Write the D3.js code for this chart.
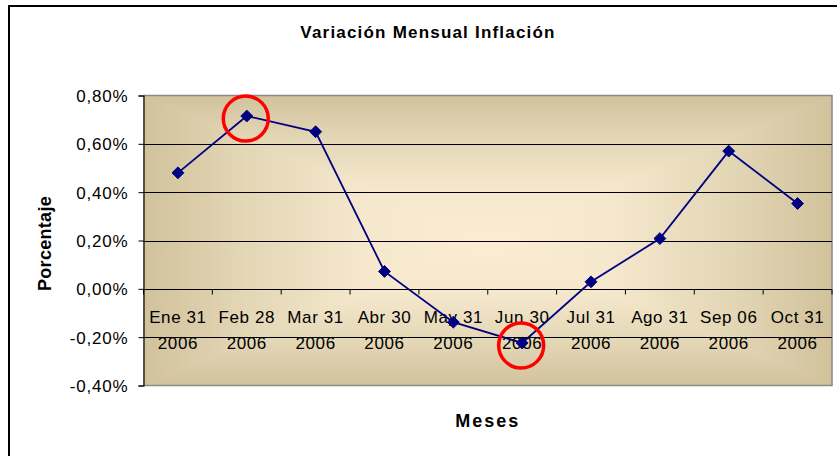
<!DOCTYPE html>
<html>
<head>
<meta charset="utf-8">
<script src="https://cdn.jsdelivr.net/npm/d3@7"></script>
<style>
  html, body { margin: 0; padding: 0; background: #ffffff; }
  svg { display: block; }
  text { font-family: "Liberation Sans", Arial, sans-serif; }
</style>
</head>
<body>
<svg id="chart" width="837" height="456"></svg>
<script>
// ---- data ----
const categories = ["Ene 31 2006", "Feb 28 2006", "Mar 31 2006", "Abr 30 2006", "May 31 2006",
                    "Jun 30 2006", "Jul 31 2006", "Ago 31 2006", "Sep 06 2006", "Oct 31 2006"];
const values = [0.0048, 0.00715, 0.0065, 0.00072, -0.00138, -0.00224, 0.00029, 0.00208, 0.0057, 0.00353];
const yTicks = [-0.004, -0.002, 0, 0.002, 0.004, 0.006, 0.008];
const highlighted = ["Feb 28 2006", "Jun 30 2006"];
const title = "Variación Mensual Inflación";
const yTitle = "Porcentaje";
const xTitle = "Meses";

// ---- layout ----
const svg = d3.select("#chart");
const W = 837, H = 456;
const plot = { x0: 143.5, x1: 832, y0: 95.5, y1: 385.5 };

const locale = d3.formatLocale({ decimal: ",", thousands: ".", grouping: [3], currency: ["", ""], minus: "-" });
const fmt = locale.format(".2%");

const x = d3.scaleBand().domain(categories).range([plot.x0, plot.x1]).padding(0);
const y = d3.scaleLinear().domain([-0.004, 0.008]).range([plot.y1, plot.y0]);
const cx = c => x(c) + x.bandwidth() / 2;

// outer chart border
svg.append("rect")
  .attr("x", 9).attr("y", 6).attr("width", W + 20).attr("height", H + 20)
  .attr("fill", "#ffffff").attr("stroke", "#000000").attr("stroke-width", 2);

// ---- plot area gradient (rectangular "from center") ----
const defs = svg.append("defs");
const pcx = (plot.x0 + plot.x1) / 2, pcy = (plot.y0 + plot.y1) / 2;
const stops = [
  { o: 0, c: "#d1c29c" },
  { o: 0.3, c: "#e4d7b6" },
  { o: 0.65, c: "#f5e8cd" },
  { o: 1, c: "#fcecd2" }
];
const sides = [
  { id: "gTop", from: [pcx, plot.y0], pts: [[plot.x0, plot.y0], [plot.x1, plot.y0], [pcx, pcy]] },
  { id: "gBot", from: [pcx, plot.y1], pts: [[plot.x0, plot.y1], [plot.x1, plot.y1], [pcx, pcy]] },
  { id: "gLeft", from: [plot.x0, pcy], pts: [[plot.x0, plot.y0], [plot.x0, plot.y1], [pcx, pcy]] },
  { id: "gRight", from: [plot.x1, pcy], pts: [[plot.x1, plot.y0], [plot.x1, plot.y1], [pcx, pcy]] }
];
sides.forEach(s => {
  const g = defs.append("linearGradient").attr("id", s.id)
    .attr("gradientUnits", "userSpaceOnUse")
    .attr("x1", s.from[0]).attr("y1", s.from[1]).attr("x2", pcx).attr("y2", pcy);
  stops.forEach(st => g.append("stop").attr("offset", st.o).attr("stop-color", st.c));
});
svg.append("rect")
  .attr("x", plot.x0).attr("y", plot.y0)
  .attr("width", plot.x1 - plot.x0).attr("height", plot.y1 - plot.y0)
  .attr("fill", "#eee2c4");
svg.append("g").selectAll("polygon").data(sides).join("polygon")
  .attr("points", d => d.pts.map(p => p.join(",")).join(" "))
  .attr("fill", d => `url(#${d.id})`)
  .attr("stroke", d => `url(#${d.id})`).attr("stroke-width", 0.6);

// plot border (gray top/right/bottom)
svg.append("path")
  .attr("d", `M${plot.x0},${plot.y0}H${plot.x1}V${plot.y1}H${plot.x0}`)
  .attr("fill", "none").attr("stroke", "#8a8a8a").attr("stroke-width", 1.5);

// gridlines
svg.append("g").selectAll("line")
  .data(yTicks.filter(t => t > -0.004 && t < 0.008))
  .join("line")
  .attr("x1", plot.x0).attr("x2", plot.x1)
  .attr("y1", d => Math.round(y(d)) + 0.5).attr("y2", d => Math.round(y(d)) + 0.5)
  .attr("stroke", "#000000").attr("stroke-width", 1);

// y axis
const yAxis = svg.append("g")
  .attr("transform", `translate(${plot.x0},0)`)
  .call(d3.axisLeft(y).tickValues(yTicks).tickSize(5).tickPadding(10).tickFormat(fmt));
yAxis.select(".domain").attr("stroke", "#000000").attr("stroke-width", 1.2);
yAxis.selectAll(".tick line").attr("stroke", "#000000");
yAxis.selectAll(".tick text")
  .attr("font-family", "Liberation Sans, Arial, sans-serif")
  .attr("font-size", 17).attr("letter-spacing", 0.8).attr("fill", "#000000")
  .attr("dy", "0.36em");

// x axis at zero
const zeroY = Math.round(y(0)) + 0.5;
const xAxis = svg.append("g").attr("transform", `translate(0,${zeroY})`)
  .call(d3.axisBottom(x).tickSize(0).tickPadding(0).tickFormat(""));
xAxis.select(".domain").remove();
xAxis.selectAll(".tick text").remove();
const bounds = categories.map(c => x(c)).concat([plot.x1]);
xAxis.append("g").selectAll("line").data(bounds).join("line")
  .attr("x1", d => d).attr("x2", d => d).attr("y1", 0).attr("y2", 5)
  .attr("stroke", "#000000");
const lbl = xAxis.append("g").selectAll("text").data(categories).join("text")
  .attr("text-anchor", "middle")
  .attr("font-size", 17).attr("letter-spacing", 0.6).attr("fill", "#000000");
lbl.append("tspan").attr("x", d => cx(d)).attr("y", 33.5)
  .text(d => d.slice(0, d.lastIndexOf(" ")));
lbl.append("tspan").attr("x", d => cx(d)).attr("y", 59.5)
  .text(d => d.slice(d.lastIndexOf(" ") + 1));

// series line
const line = d3.line().x((d, i) => cx(categories[i])).y(d => y(d));
svg.append("path").datum(values)
  .attr("d", line).attr("fill", "none")
  .attr("stroke", "#000080").attr("stroke-width", 1.8);

// markers
svg.append("g").selectAll("path").data(values).join("path")
  .attr("transform", (d, i) => `translate(${cx(categories[i])},${y(d)})`)
  .attr("d", d3.symbol().type(d3.symbolDiamond2).size(90))
  .attr("fill", "#000080").attr("stroke", "#000080").attr("stroke-width", 1);

// highlight circles
svg.append("g").selectAll("circle").data(highlighted).join("circle")
  .attr("cx", c => cx(c) - 1)
  .attr("cy", c => y(values[categories.indexOf(c)]) + 2.5)
  .attr("r", 22.5)
  .attr("fill", "none").attr("stroke", "#ff0000").attr("stroke-width", 3.5);

// titles
svg.append("text")
  .attr("x", 428).attr("y", 38)
  .attr("text-anchor", "middle")
  .attr("font-size", 17).attr("font-weight", "bold").attr("letter-spacing", 1.2)
  .text(title);
svg.append("text")
  .attr("transform", `translate(51,${(plot.y0 + plot.y1) / 2 + 3}) rotate(-90)`)
  .attr("text-anchor", "middle")
  .attr("font-size", 18).attr("font-weight", "bold").attr("letter-spacing", 0.3)
  .text(yTitle);
svg.append("text")
  .attr("x", (plot.x0 + plot.x1) / 2).attr("y", 427)
  .attr("text-anchor", "middle")
  .attr("font-size", 18).attr("font-weight", "bold").attr("letter-spacing", 2)
  .text(xTitle);
</script>
</body>
</html>
